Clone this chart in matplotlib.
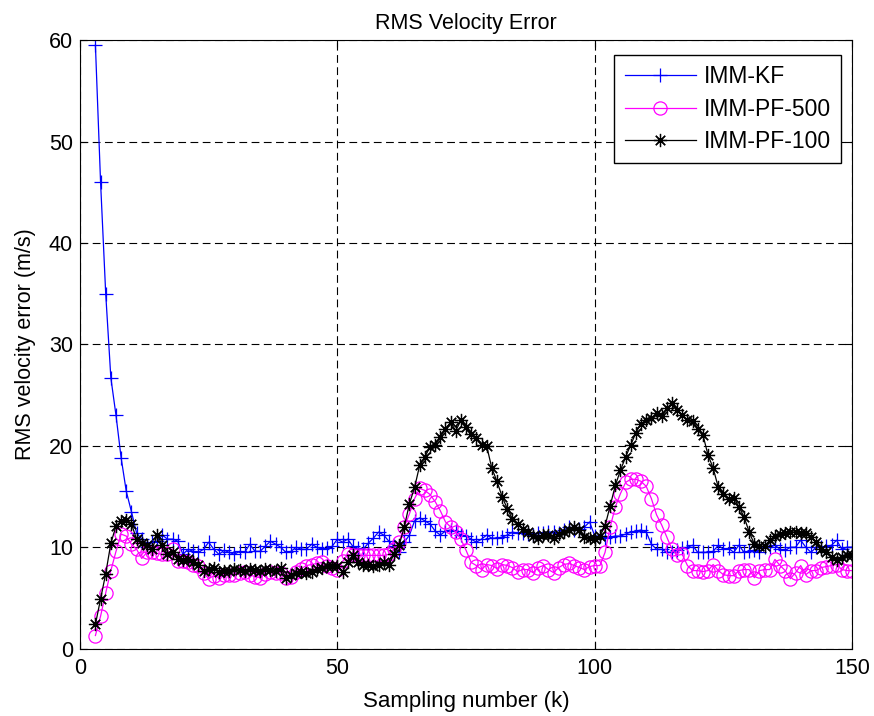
import numpy as np
import matplotlib
matplotlib.use("Agg")
import matplotlib.pyplot as plt

# RMS velocity error per sample (k = 3..150)
kf = [59.5, 46.0, 35.0, 26.7, 23.0, 18.8, 15.5, 13.5, 11.4, 10.8,
      10.0, 10.5, 10.6, 11.2, 10.8, 10.8, 10.6, 9.3, 9.8, 9.6,
      9.5, 9.8, 10.5, 9.8, 9.3, 9.7, 9.5, 9.3, 9.6, 9.5,
      10.3, 9.6, 9.6, 10.1, 10.6, 10.3, 10.0, 9.5, 9.6, 10.0,
      9.8, 9.8, 10.3, 10.0, 9.8, 9.9, 10.1, 10.8, 10.5, 10.8,
      10.1, 9.9, 9.8, 10.4, 10.9, 11.5, 11.2, 10.6, 10.1, 9.5,
      10.5, 11.2, 12.6, 12.9, 12.6, 12.3, 11.6, 11.2, 11.6, 11.7,
      11.6, 11.2, 11.1, 10.8, 10.5, 10.8, 11.2, 10.9, 10.9, 11.0,
      11.2, 11.5, 11.4, 11.4, 11.3, 11.2, 11.4, 11.4, 11.5, 11.5,
      11.4, 11.7, 12.0, 11.7, 11.8, 12.0, 12.5, 11.1, 11.1, 10.9,
      11.0, 11.1, 11.1, 11.3, 11.5, 11.6, 11.7, 11.5, 10.3, 9.8,
      9.8, 9.5, 9.5, 9.7, 9.9, 10.0, 10.2, 9.5, 9.5, 9.5,
      9.6, 10.2, 9.8, 9.9, 9.5, 10.2, 9.5, 9.6, 9.7, 9.5,
      10.0, 10.0, 10.2, 9.8, 9.7, 10.0, 10.0, 10.7, 10.0, 9.5,
      10.0, 10.0, 10.1, 10.2, 10.7, 9.8, 10.0, 10.0]

pf500 = [1.3, 3.2, 5.5, 7.7, 9.6, 11.3, 11.1, 10.3, 9.8, 8.9,
         9.5, 9.5, 9.4, 9.3, 9.3, 9.8, 8.6, 8.6, 8.5, 8.3,
         8.2, 7.5, 6.9, 7.2, 7.0, 7.3, 7.3, 7.3, 7.5, 7.6,
         7.3, 7.1, 7.0, 7.4, 7.6, 7.5, 7.5, 7.0, 7.1, 7.6,
         7.9, 8.2, 8.3, 8.4, 8.5, 8.2, 8.0, 7.8, 8.6, 9.3,
         9.2, 9.2, 9.2, 9.2, 9.2, 9.2, 9.2, 9.3, 9.8, 10.5,
         12.0, 13.3, 14.8, 15.8, 15.6, 15.2, 14.5, 13.6, 12.5, 12.0,
         11.5, 10.8, 9.7, 8.5, 8.2, 7.8, 8.3, 8.2, 7.9, 8.3,
         8.2, 8.0, 7.6, 7.8, 7.8, 7.5, 8.0, 8.2, 7.8, 7.5,
         8.0, 8.3, 8.4, 8.2, 8.0, 7.8, 8.1, 8.2, 8.2, 9.5,
         12.0, 14.0, 15.3, 16.4, 16.7, 16.7, 16.5, 16.0, 14.8, 13.2,
         12.2, 11.0, 9.8, 9.2, 9.3, 8.2, 7.7, 7.7, 7.6, 7.7,
         8.3, 7.7, 7.3, 7.2, 7.2, 7.7, 7.8, 7.8, 7.0, 7.7,
         7.8, 7.8, 8.8, 8.2, 7.7, 6.9, 7.5, 8.2, 7.3, 7.7,
         7.7, 8.0, 8.1, 8.2, 8.3, 7.8, 7.7, 7.7]

pf100 = [2.4, 4.9, 7.4, 10.4, 12.1, 12.6, 12.7, 12.3, 10.8, 10.4,
         10.2, 9.8, 11.2, 10.2, 9.3, 9.5, 8.8, 8.7, 8.8, 8.5,
         8.3, 7.7, 7.85, 8.0, 7.6, 7.7, 7.7, 7.85, 7.8, 7.7,
         7.85, 7.8, 7.7, 7.85, 7.8, 7.7, 8.0, 7.0, 7.3, 7.5,
         7.6, 7.5, 7.6, 7.85, 8.0, 8.2, 8.2, 8.2, 7.6, 8.5,
         9.2, 8.5, 8.3, 8.3, 8.2, 8.3, 8.5, 8.3, 9.3, 10.2,
         12.0, 14.3, 15.9, 18.1, 18.9, 19.9, 20.1, 20.9, 21.7, 22.3,
         21.5, 22.5, 21.9, 21.2, 20.8, 20.1, 20.0, 17.8, 16.5, 15.0,
         13.8, 12.8, 12.3, 11.8, 11.5, 11.1, 10.9, 11.2, 11.2, 10.9,
         11.3, 11.5, 11.7, 12.0, 11.7, 11.0, 10.9, 10.8, 11.1, 12.1,
         14.1, 16.1, 17.6, 18.9, 20.1, 21.3, 22.2, 22.5, 22.7, 23.2,
         22.9, 23.7, 24.2, 23.5, 23.0, 22.5, 22.4, 21.7, 21.1, 19.1,
         17.8, 15.9, 15.3, 14.8, 14.9, 14.0, 13.0, 11.5, 10.3, 10.1,
         10.1, 10.7, 11.1, 11.3, 11.4, 11.5, 11.5, 11.4, 11.4, 11.0,
         10.5, 9.8, 9.5, 9.0, 8.7, 9.0, 9.2, 9.2]

k = np.arange(3, 3 + len(kf))

plt.rcParams['font.family'] = ['Liberation Sans', 'DejaVu Sans']
plt.rcParams['font.size'] = 15.5

fig = plt.figure(figsize=(8.74, 7.16), dpi=100)
ax = fig.add_axes([0.0915, 0.094, 0.8835, 0.85])

ax.plot(k, kf, color='blue', lw=0.9, marker='+', ms=10, mew=0.9, label='IMM-KF')
ax.plot(k, pf500, color='magenta', lw=0.9, marker='o', ms=9.5, mfc='none', mew=0.9, label='IMM-PF-500')
ax.plot(k, pf100, color='black', lw=0.9, marker=(8, 2, 0), ms=9.5, mew=0.9, label='IMM-PF-100')

ax.set_xlim(0, 150)
ax.set_ylim(0, 60)
ax.set_xticks([0, 50, 100, 150])
ax.set_yticks(range(0, 61, 10))
ax.tick_params(direction='in', length=5, top=True, right=True)
ax.tick_params(axis='x', pad=7)
ax.tick_params(axis='y', pad=5)
ax.grid(True, color='black', lw=0.8, linestyle=(0, (7, 4)))

ax.set_title('RMS Velocity Error', fontsize=15.5, pad=8)
ax.set_xlabel('Sampling number (k)', fontsize=16, labelpad=8)
ax.set_ylabel('RMS velocity error (m/s)', fontsize=15.5, labelpad=9)

leg = ax.legend(loc='upper right', bbox_to_anchor=(0.9857, 0.9754), borderaxespad=0,
                handlelength=3.1, handletextpad=0.35, fancybox=False, framealpha=1,
                edgecolor='black', fontsize=16.5, labelspacing=0.4, borderpad=0.45)
leg.get_frame().set_linewidth(1.0)

fig.savefig('out.png', dpi=100)
